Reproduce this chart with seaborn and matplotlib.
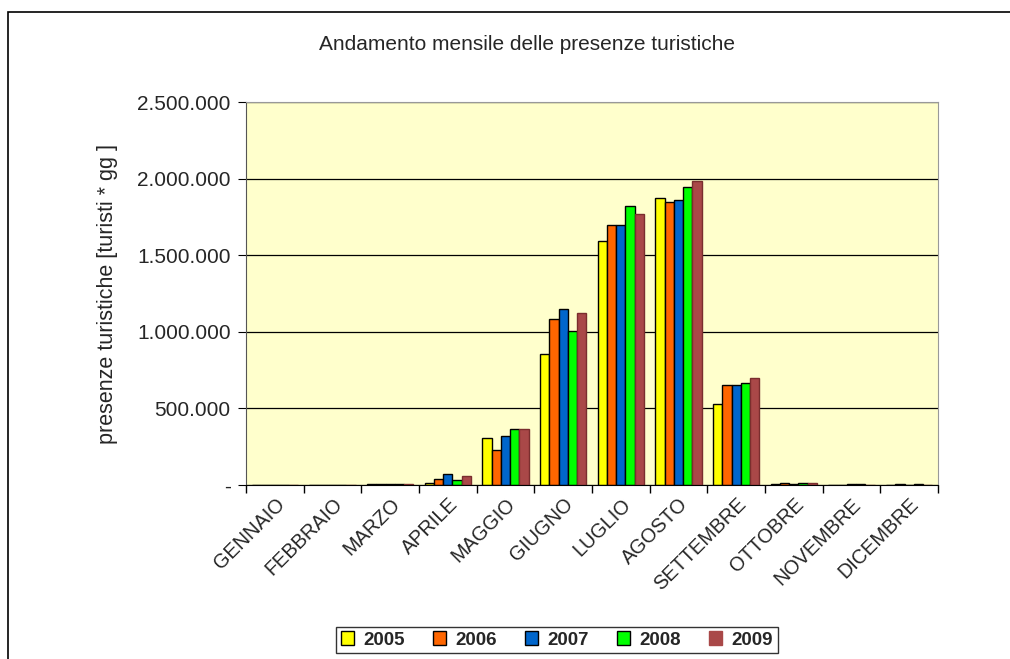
import numpy as np
import pandas as pd
import matplotlib
matplotlib.use("Agg")
import matplotlib.pyplot as plt
from matplotlib.patches import Rectangle
from matplotlib.ticker import FuncFormatter
import seaborn as sns

months = ['GENNAIO', 'FEBBRAIO', 'MARZO', 'APRILE', 'MAGGIO', 'GIUGNO',
          'LUGLIO', 'AGOSTO', 'SETTEMBRE', 'OTTOBRE', 'NOVEMBRE', 'DICEMBRE']
years = ['2005', '2006', '2007', '2008', '2009']

v2005 = [2000, 2000, 8000, 15000, 310000, 855000, 1595000, 1875000, 530000, 8000, 3000, 3000]
v2006 = [2000, 2000, 8000, 40000, 230000, 1083000, 1700000, 1845000, 651000, 15000, 3000, 8000]
v2007 = [2000, 2000, 8000, 70000, 320000, 1152000, 1700000, 1863000, 651000, 8000, 8000, 3000]
v2008 = [2000, 2000, 8000, 30000, 368000, 1006000, 1820000, 1943000, 669000, 15000, 8000, 8000]
v2009 = [1000, 1000, 5000, 58000, 365000, 1122000, 1770000, 1987000, 697000, 10000, 2000, 2000]

colors = ['#FFFF00', '#FF6600', '#0066CC', '#00FF00', '#A94848']

df = pd.DataFrame({
    'mese': months * 5,
    'anno': [y for y in years for _ in months],
    'presenze': v2005 + v2006 + v2007 + v2008 + v2009,
})

sns.set_style('white')
plt.rcParams['font.family'] = ['Liberation Sans', 'DejaVu Sans']

fig = plt.figure(figsize=(10.10, 6.59), dpi=100)
ax = fig.add_axes([246 / 1010, (659 - 485) / 659, (938 - 246) / 1010, (485 - 102) / 659])

sns.barplot(data=df, x='mese', y='presenze', hue='anno', order=months,
            hue_order=years, palette=colors, width=0.8, saturation=1,
            edgecolor='black', linewidth=1.0, ax=ax, legend=True)

# 2009 bars have a darker red outline instead of black
for patch in ax.containers[4]:
    patch.set_edgecolor('#7A2E2E')

ax.set_facecolor('#FFFFCC')
ax.set_ylim(0, 2500000)
ax.set_xlim(-0.5, 11.5)
ax.set_yticks([0, 500000, 1000000, 1500000, 2000000, 2500000])
ax.yaxis.set_major_formatter(FuncFormatter(
    lambda v, p: '-' if v == 0 else f'{int(v):,}'.replace(',', '.')))
ax.grid(axis='y', color='black', linewidth=0.9)
ax.set_axisbelow(True)
for s in ['top', 'right']:
    ax.spines[s].set_color('#999999')
ax.spines['left'].set_color('#555555')
ax.spines['bottom'].set_color('black')

ax.set_xticks(np.arange(-0.5, 12, 1), minor=True)
ax.tick_params(axis='x', which='minor', length=6, color='black', width=1, bottom=True)
ax.tick_params(axis='x', which='major', length=0, labelsize=14.3, pad=7)
ax.tick_params(axis='y', length=6, color='black', left=True, labelsize=15, pad=5)
plt.setp(ax.get_xticklabels(), rotation=45, ha='right', rotation_mode='anchor')

ax.set_xlabel('')
ax.set_ylabel('presenze turistiche [turisti * gg ]', fontsize=15.5, labelpad=14)
fig.text(527 / 1010, 1 - 44 / 659, 'Andamento mensile delle presenze turistiche',
         ha='center', va='center', fontsize=15)

leg = ax.legend(loc='center', bbox_to_anchor=(557 / 1010, 1 - 640 / 659),
                bbox_transform=fig.transFigure, ncol=5, frameon=True,
                fancybox=False, edgecolor='black', handlelength=0.7,
                handleheight=0.7, columnspacing=1.5, handletextpad=0.5,
                borderpad=0.25, prop={'weight': 'bold', 'size': 13.5})
leg.get_frame().set_linewidth(1.0)
leg.legend_handles[4].set_edgecolor(colors[4])

# outer chart border (cropped at right and bottom in the original)
fig.add_artist(Rectangle((8 / 1010, -0.1), 1.1, 1 - 12 / 659 + 0.1,
                         transform=fig.transFigure, fill=False,
                         edgecolor='black', linewidth=1.2))

fig.savefig('out.png', dpi=100, facecolor='white')
